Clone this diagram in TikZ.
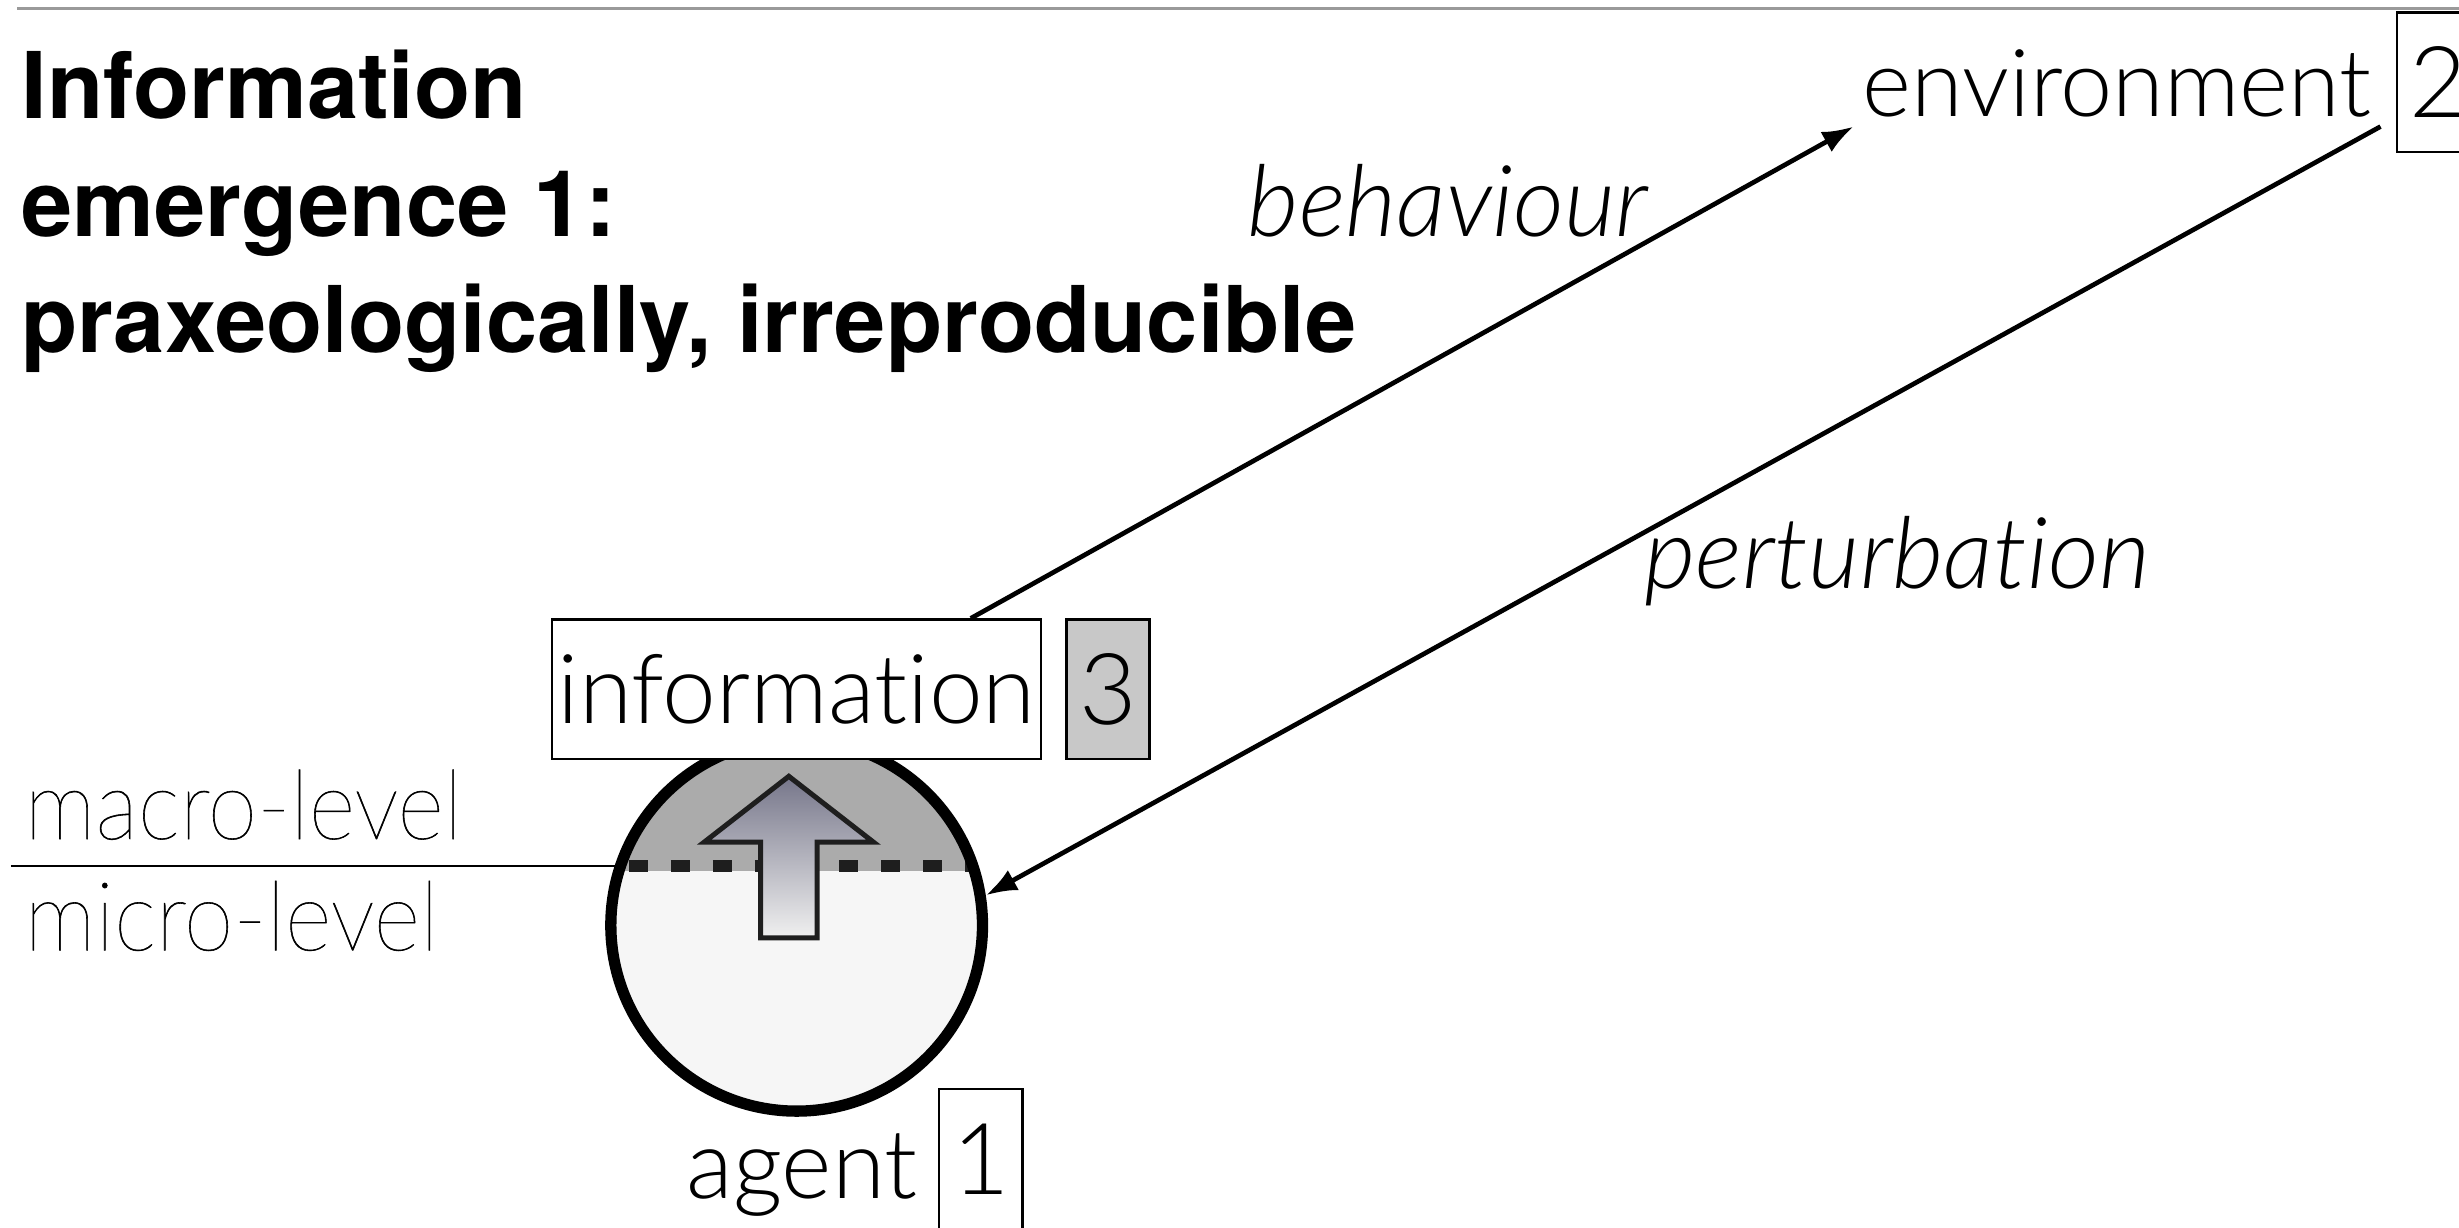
\documentclass[tikz,border=0pt]{standalone}
\usepackage{fontspec}
\setmainfont{TeX Gyre Heros}
\newfontfamily\lightface{Lato Light}[Ligatures=NoCommon]
\newfontfamily\hairface{Lato Thin}[Ligatures=NoCommon, FakeStretch=0.93, FakeBold=0.6]
\usetikzlibrary{arrows.meta,calc}

\definecolor{capgray}{HTML}{ABABAB}
\definecolor{basegray}{HTML}{F6F6F6}
\definecolor{tagfill}{HTML}{C8C8C8}
\definecolor{rulegray}{HTML}{9A9A9A}
\definecolor{inkdark}{HTML}{1E1E1E}
\definecolor{arrowtop}{HTML}{76768A}
\definecolor{arrowbot}{HTML}{F0F0F0}

\begin{document}
\begin{tikzpicture}[x=0.1mm, y=-0.1mm,
  lbl/.style={font=\lightface\fontsize{17.5}{20}\selectfont, inner sep=0pt, anchor=base west},
  lvl/.style={font=\hairface\fontsize{17.5}{20}\selectfont, inner sep=0pt, anchor=base west},
  ttl/.style={font=\fontsize{16.7}{20}\selectfont\bfseries, inner sep=0pt, anchor=base west},
  emph/.style={font=\lightface\fontsize{18}{20}\selectfont\itshape, inner sep=0pt, anchor=base west},
  tagbox/.style={draw, line width=0.4pt, minimum width=5.3mm, minimum height=8.9mm,
                 inner sep=0pt, font=\lightface\fontsize{18}{20}\selectfont},
  wordbox/.style={draw, fill=white, line width=0.4pt, minimum width=31.2mm,
                  minimum height=8.9mm, inner sep=0pt, font=\lightface\fontsize{17.5}{20}\selectfont},
  conn/.style={line width=0.85pt, -{Latex[length=2mm, width=1.45mm]}},
  levelrule/.style={line width=0.3pt},
]
\useasboundingbox (0,0) rectangle (1568,783);
\clip (0,0) rectangle (1568,783);

% rule along the top
\coordinate (ruleL) at (11,5.5);
\coordinate (ruleR) at (1580,5.5);
\draw[rulegray, line width=0.45pt] (ruleL) -- (ruleR);

% heading
\node[ttl] (title1) at (13,75.5) {Information};
\node[ttl] (title2) at (13,151) {emergence 1:};
\node[ttl] (title3) at (13,225) {praxeologically, irreproducible};

% edge labels
\node[emph] (beh) at (795,151) {behaviour};
\node[emph] (pert) at (1048,375) {perturbation};

% level labels
\node[lvl] (macro) at (15,535) {macro-level};
\node[lvl] (micro) at (15,606) {micro-level};

% environment
\node[lbl, font=\lightface\fontsize{17}{20}\selectfont, inner sep=0.5mm] (env) at (1182,74.5) {environment};
\node[tagbox] (tag2) at (1555,52.5) {2};

% agent body: macro cap and micro base
\begin{scope}
  \clip (508,590) circle (119);
  \fill[capgray] (380,460) rectangle (640,555.5);
  \fill[basegray] (380,555.5) rectangle (640,720);
  \draw[inkdark, line width=0.75mm, dash pattern=on 1.2mm off 1.48mm] (401,552) -- (630,552);
\end{scope}

% boundary between the levels
\coordinate (levelL) at (7,552);
\coordinate (levelR) at (396,552);
\draw[levelrule] (levelL) -- (levelR);

\node[circle, draw, line width=0.72mm, minimum size=23.7mm, inner sep=0pt] (agent) at (508,590) {};

% upward emergence arrow
\draw[inkdark, line width=0.32mm, line join=miter, top color=arrowtop, bottom color=arrowbot]
  (503,495) -- (557,537) -- (521,537) -- (521,598) -- (485,598) -- (485,537) -- (449,537) -- cycle;

% information
\node[wordbox] (info) at (508,439.5) {information};
\node[tagbox, fill=tagfill] (tag3) at (706.5,439.5) {3};

% agent label
\node[lbl] (agentname) at (437,764) {agent};
\node[tagbox] (tag1) at (625.5,739) {1};

% connectors
\coordinate (bstart) at ($(info.north)+(111,0)$);
\draw[conn] (bstart) -- (env.south west);
\draw[conn] (env.south east) -- (agent.9);
\end{tikzpicture}
\end{document}
